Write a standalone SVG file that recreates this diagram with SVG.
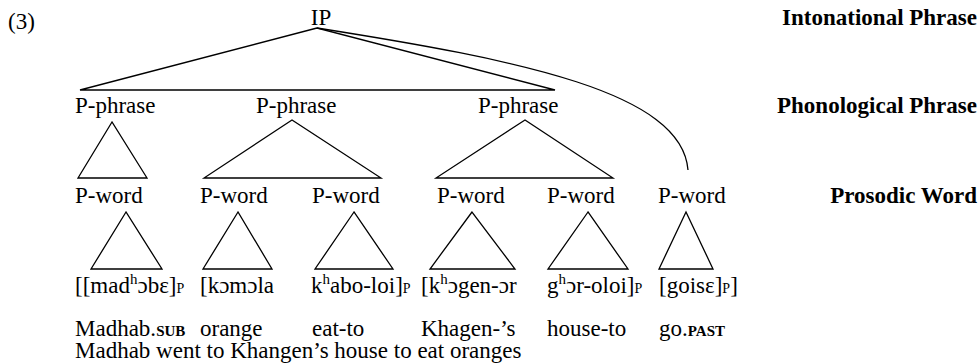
<svg xmlns="http://www.w3.org/2000/svg" width="980" height="364" viewBox="0 0 980 364" font-family="'Liberation Serif', 'Times New Roman', Tinos, 'DejaVu Serif', serif">
<style>
text{font-family:'Liberation Serif','Times New Roman',Tinos,'DejaVu Serif',serif;font-size:23px;fill:#000}
.lbl{font-weight:bold;text-anchor:end}
.sc{font-size:15px;font-weight:bold}
.sup{font-size:15px}
.sub{font-size:14px}
.ln{fill:none;stroke:#000;stroke-width:1.3}
</style>
<rect width="980" height="364" fill="#fff"/>
<text x="8" y="29">(3)</text>
<g id="levels">
<text class="lbl" x="977" y="25">Intonational Phrase</text>
<text class="lbl" x="977" y="113">Phonological Phrase</text>
<text class="lbl" x="977" y="203">Prosodic Word</text>
</g>
<g id="connectors" class="ln">
<polygon points="317,28 80,90 555,90"/>
<path d="M317,28 C520,60 682,92 688,170"/>
<polygon points="112,122 78,178 147,178"/>
<polygon points="292,120 204,178 381,178"/>
<polygon points="525,120 436,178 613,178"/>
<polygon points="126,212 91,269 162,269"/>
<polygon points="238,212 203,269 272,269"/>
<polygon points="354,212 315,269 393,269"/>
<polygon points="472,212 430,269 515,269"/>
<polygon points="588,212 548,269 628,269"/>
<polygon points="686,212 659,269 713,269"/>
</g>
<g id="ip"><text x="321" y="25" text-anchor="middle">IP</text></g>
<g id="pphrase1"><text x="75" y="113">P-phrase</text></g>
<g id="pphrase2"><text x="256" y="113">P-phrase</text></g>
<g id="pphrase3"><text x="478" y="113">P-phrase</text></g>
<g id="pword1"><text x="75" y="203">P-word</text></g>
<g id="pword2"><text x="200" y="203">P-word</text></g>
<g id="pword3"><text x="312" y="203">P-word</text></g>
<g id="pword4"><text x="437" y="203">P-word</text></g>
<g id="pword5"><text x="547" y="203">P-word</text></g>
<g id="pword6"><text x="658" y="203">P-word</text></g>
<g id="word1">
<text x="75" y="293">[[mad<tspan class="sup" dy="-9">h</tspan><tspan dy="9">ɔbɛ]</tspan><tspan class="sub">P</tspan></text>
<text x="75" y="336">Madhab.<tspan class="sc">SUB</tspan></text>
</g>
<g id="word2">
<text x="200" y="293">[kɔmɔla</text>
<text x="200" y="336">orange</text>
</g>
<g id="word3">
<text x="311" y="293">k<tspan class="sup" dy="-9">h</tspan><tspan dy="9">abo-loi]</tspan><tspan class="sub">P</tspan></text>
<text x="312" y="336">eat-to</text>
</g>
<g id="word4">
<text x="421" y="293">[k<tspan class="sup" dy="-9">h</tspan><tspan dy="9">ɔgen-ɔr</tspan></text>
<text x="421" y="336">Khagen-’s</text>
</g>
<g id="word5">
<text x="547" y="293">g<tspan class="sup" dy="-9">h</tspan><tspan dy="9">ɔr-oloi]</tspan><tspan class="sub">P</tspan></text>
<text x="547" y="336">house-to</text>
</g>
<g id="word6">
<text x="659" y="293">[goisɛ]<tspan class="sub">P</tspan>]</text>
<text x="659" y="336">go.<tspan class="sc">PAST</tspan></text>
</g>
<g id="translation"><text x="75" y="358">Madhab went to Khangen’s house to eat oranges</text></g>
</svg>
